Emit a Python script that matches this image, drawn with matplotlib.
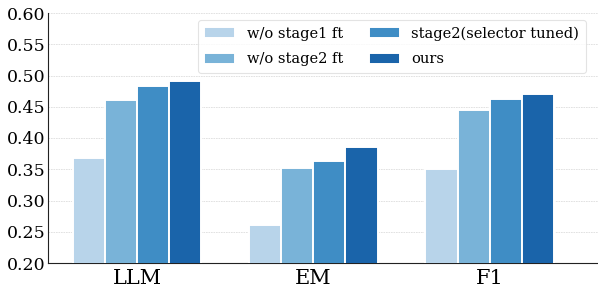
import matplotlib
matplotlib.use("Agg")
import matplotlib.pyplot as plt
import numpy as np

categories = ["LLM", "EM", "F1"]
series_names = ["w/o stage1 ft", "w/o stage2 ft", "stage2(selector tuned)", "ours"]
values_wo_stage1 = [0.368, 0.261, 0.350]
values_wo_stage2 = [0.461, 0.352, 0.445]
values_stage2_sel = [0.483, 0.364, 0.462]
values_ours = [0.491, 0.386, 0.470]
yticks = [0.20, 0.25, 0.30, 0.35, 0.40, 0.45, 0.50, 0.55, 0.60]

colors = ["#b8d4ea", "#79b3d8", "#3f8dc5", "#1a64aa"]
all_vals = [values_wo_stage1, values_wo_stage2, values_stage2_sel, values_ours]

plt.rcParams['font.family'] = ['DejaVu Serif']
fig = plt.figure(figsize=(5.98, 2.96), dpi=100)
ax = fig.add_axes([48/598, 1 - 263/296, 1 - 48/598, 250/296])

x = np.arange(len(categories))
w = 0.182
for i, (name, vals) in enumerate(zip(series_names, all_vals)):
    ax.bar(x + (i - 1.5) * w, vals, w, label=name, color=colors[i],
           edgecolor="white", linewidth=1.4, zorder=3)

ax.set_ylim(0.20, 0.60)
ax.set_yticks(yticks)
ax.set_yticklabels([f"{t:.2f}" for t in yticks], fontsize=12.5)
ax.set_xticks(x)
ax.set_xticklabels(categories, fontsize=15)
ax.set_xlim(-0.506, 2.615)
ax.tick_params(axis='x', length=0, pad=4)
ax.tick_params(axis='y', length=0, pad=2)
for s in ["top", "right"]:
    ax.spines[s].set_visible(False)
ax.spines["left"].set_color("#222222")
ax.spines["bottom"].set_color("#222222")
ax.grid(axis='y', color="#dddddd", linestyle=(0, (2, 1)), linewidth=0.6, zorder=0)
ax.set_axisbelow(True)

leg = ax.legend(ncol=2, loc="upper right", bbox_to_anchor=(0.978, 0.972),
                fontsize=10.5, frameon=True, fancybox=True, handlelength=2.1,
                handleheight=0.8, columnspacing=1.8, handletextpad=0.8,
                labelspacing=0.78, borderpad=0.45, borderaxespad=0)
leg.get_frame().set_edgecolor("#dddddd")
leg.get_frame().set_linewidth(0.8)

fig.savefig("out.png", dpi=100)
